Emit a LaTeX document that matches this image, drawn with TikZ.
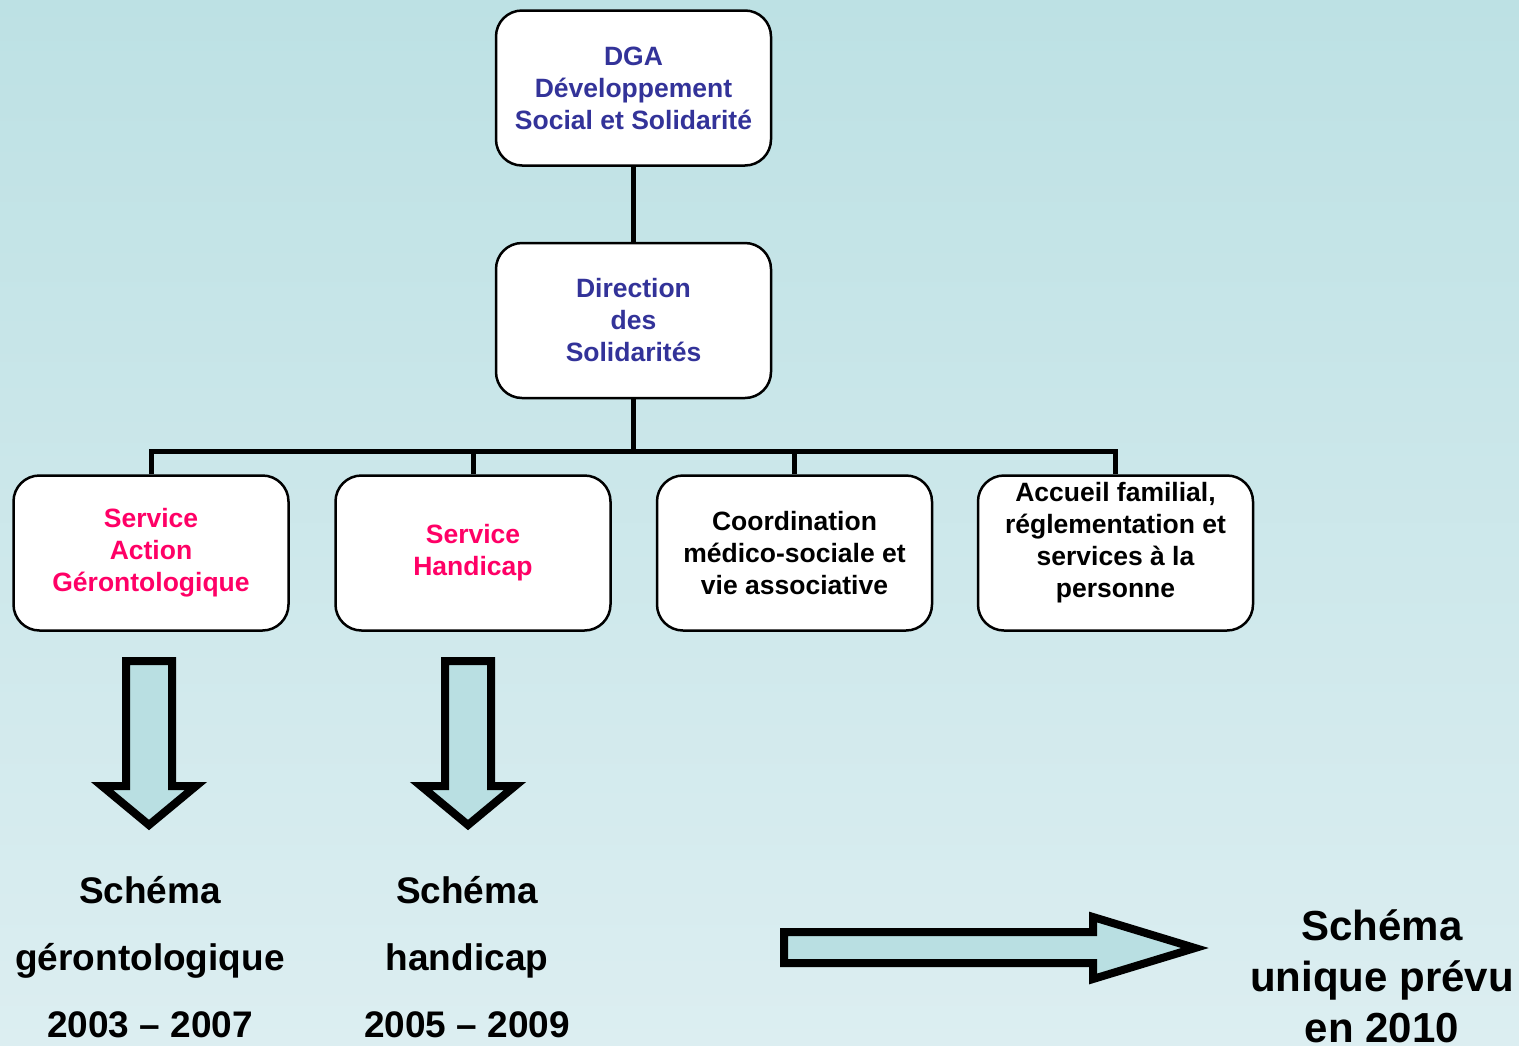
\documentclass[tikz,border=0pt]{standalone}
\usepackage{fontspec}
\setmainfont{Liberation Sans}
\definecolor{fondhaut}{HTML}{BDE1E4}
\definecolor{fondbas}{HTML}{DCEEF1}
\definecolor{bleu}{HTML}{333399}
\definecolor{rose}{HTML}{FF0066}
\definecolor{fleche}{HTML}{B9DFE2}
\begin{document}
\begin{tikzpicture}[x=1pt,y=-1pt,
    boite/.style={draw, line width=2.5pt, rounded corners=26pt, fill=white, minimum width=275pt, minimum height=155pt, align=center, font=\fontsize{26.5}{32}\selectfont\bfseries},
    lien/.style={line width=5pt, line join=miter},
    grossefleche/.style={draw, line width=8pt, line join=miter, fill=fleche},
    schema/.style={align=center, font=\fontsize{37}{67}\selectfont\bfseries}]
    \useasboundingbox (0,0) rectangle (1519,1045);
    \fill[top color=fondhaut, bottom color=fondbas] (0,0) rectangle (1519,1045);
    \node[boite, text=bleu] (dga) at (633.5,88) {DGA\\Développement\\Social et Solidarité};
    \node[boite, text=bleu] (direction) at (633.5,320.5) {Direction\\des\\Solidarités};
    \node[boite, text=rose] (geronto) at (151,553) {Service\\Action\\Gérontologique};
    \node[boite, text=rose] (handicap) at (473,553) {Service\\Handicap};
    \node[boite] (coordination) at (794.5,553) {Coordination\\médico-sociale et\\vie associative};
    \node[boite] (accueil) at (1115.5,553) {};
    \node[align=center, font=\fontsize{26.5}{32}\selectfont\bfseries] (accueiltxt) at (1115.5,543) {Accueil familial,\\réglementation et\\services à la\\personne};
    \coordinate (barre) at (633.5,451);
    \draw[lien] (dga) -- (direction);
    \draw[lien] (direction) -- (direction |- barre);
    \draw[lien] (geronto.north) |- (accueil.north |- barre) -- (accueil.north);
    \draw[lien] (handicap.north) -- (handicap.north |- barre);
    \draw[lien] (coordination.north) -- (coordination.north |- barre);
    \draw[grossefleche] (126,661) -- (172,661) -- (172,786) -- (196,786) -- (149,825) -- (102,786) -- (126,786) -- cycle;
    \draw[grossefleche] (445,661) -- (491,661) -- (491,786) -- (515,786) -- (468,825) -- (421,786) -- (445,786) -- cycle;
    \draw[grossefleche] (784,932) -- (1093,932) -- (1093,917) -- (1195,948) -- (1093,979) -- (1093,963) -- (784,963) -- cycle;
    \node[schema] (schemageronto) at (150,957) {Schéma\\gérontologique\\2003 – 2007};
    \node[schema] (schemahandicap) at (467,957) {Schéma\\handicap\\2005 – 2009};
    \node[align=center, font=\fontsize{42}{51}\selectfont\bfseries] (schemaunique) at (1382,976) {Schéma\\unique prévu\\en 2010};
\end{tikzpicture}
\end{document}
